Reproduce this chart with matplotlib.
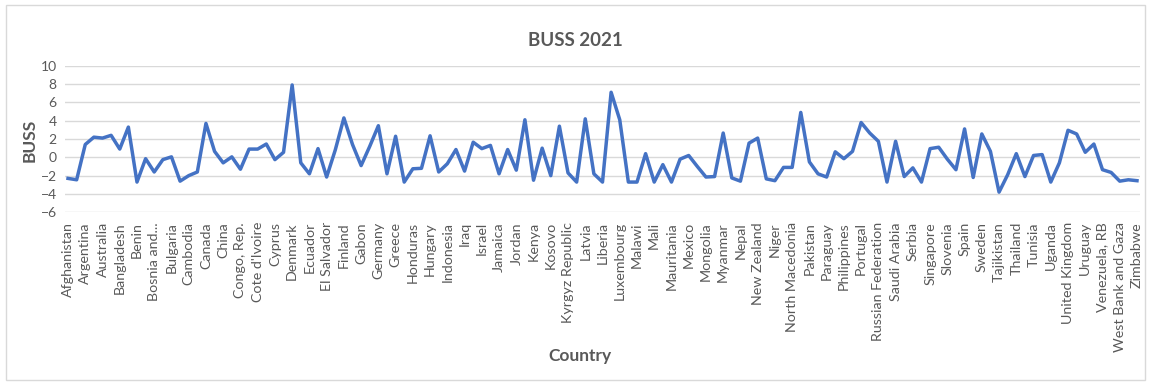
import numpy as np
import matplotlib
matplotlib.use("Agg")
from matplotlib import pyplot as plt
from matplotlib.patches import Rectangle

countries = [
    "Afghanistan", "Albania", "Argentina", "Armenia", "Australia", "Austria",
    "Bangladesh", "Belgium", "Benin", "Bolivia", "Bosnia and...", "Brazil",
    "Bulgaria", "Burkina Faso", "Cambodia", "Cameroon", "Canada", "Chile",
    "China", "Colombia", "Congo, Rep.", "Costa Rica", "Cote d'Ivoire", "Croatia",
    "Cyprus", "Czech Republic", "Denmark", "Dominican Republic", "Ecuador", "Egypt",
    "El Salvador", "Estonia", "Finland", "France", "Gabon", "Georgia",
    "Germany", "Ghana", "Greece", "Guatemala", "Honduras", "Hong Kong",
    "Hungary", "India", "Indonesia", "Iran", "Iraq", "Ireland",
    "Israel", "Italy", "Jamaica", "Japan", "Jordan", "Kazakhstan",
    "Kenya", "Korea, Rep.", "Kosovo", "Kuwait", "Kyrgyz Republic", "Lao PDR",
    "Latvia", "Lebanon", "Liberia", "Lithuania", "Luxembourg", "Madagascar",
    "Malawi", "Malaysia", "Mali", "Malta", "Mauritania", "Mauritius",
    "Mexico", "Moldova", "Mongolia", "Morocco", "Myanmar", "Namibia",
    "Nepal", "Netherlands", "New Zealand", "Nicaragua", "Niger", "Nigeria",
    "North Macedonia", "Norway", "Pakistan", "Panama", "Paraguay", "Peru",
    "Philippines", "Poland", "Portugal", "Romania", "Russian Federation", "Rwanda",
    "Saudi Arabia", "Senegal", "Serbia", "Sierra Leone", "Singapore", "Slovak Republic",
    "Slovenia", "South Africa", "Spain", "Sri Lanka", "Sweden", "Switzerland",
    "Tajikistan", "Tanzania", "Thailand", "Togo", "Tunisia", "Turkey",
    "Uganda", "Ukraine", "United Kingdom", "United States", "Uruguay", "Uzbekistan",
    "Venezuela, RB", "Vietnam", "West Bank and Gaza", "Zambia", "Zimbabwe",
]

buss = [
    -2.3, -2.45, 1.4, 2.2, 2.1, 2.4, 0.9, 3.3, -2.7, -0.15,
    -1.6, -0.25, 0.05, -2.6, -2.0, -1.6, 3.7, 0.65, -0.6, 0.05,
    -1.3, 0.9, 0.9, 1.45, -0.25, 0.55, 7.9, -0.6, -1.8, 0.95,
    -2.15, 0.8, 4.3, 1.4, -0.9, 1.2, 3.45, -1.8, 2.3, -2.7,
    -1.25, -1.2, 2.35, -1.6, -0.7, 0.85, -1.5, 1.65, 0.95, 1.3,
    -1.8, 0.85, -1.4, 4.1, -2.5, 1.0, -2.0, 3.4, -1.7, -2.7,
    4.2, -1.8, -2.7, 7.1, 4.1, -2.7, -2.7, 0.4, -2.7, -0.8,
    -2.7, -0.2, 0.2, -1.0, -2.15, -2.1, 2.65, -2.25, -2.6, 1.55,
    2.1, -2.35, -2.55, -1.1, -1.1, 4.9, -0.5, -1.8, -2.15, 0.6,
    -0.15, 0.65, 3.8, 2.65, 1.75, -2.7, 1.75, -2.1, -1.15, -2.7,
    0.95, 1.1, -0.2, -1.35, 3.1, -2.2, 2.55, 0.65, -3.8, -1.9,
    0.4, -2.1, 0.2, 0.3, -2.7, -0.6, 2.95, 2.55, 0.55, 1.45,
    -1.35, -1.65, -2.6, -2.45, -2.55,
]

grey = "#595959"
plt.rcParams["font.family"] = ["Lato", "DejaVu Sans"]

W, H = 1151, 384
fig = plt.figure(figsize=(W / 100, H / 100), dpi=100)
fig.patches.append(Rectangle((6 / W, 4 / H), 1139 / W, 375 / H, transform=fig.transFigure,
                             fill=False, edgecolor="#D9D9D9", linewidth=1))

ax = fig.add_axes([65 / W, (H - 212.3) / H, (1140 - 65) / W, (212.3 - 65.7) / H])
x = np.arange(len(buss))
ax.plot(x, buss, color="#4472C4", linewidth=2.5, solid_joinstyle="round")

ax.set_ylim(-6, 10)
ax.set_yticks(range(-6, 11, 2))
ax.set_xlim(-0.35, len(buss) - 0.65)
ax.set_xticks(x[::2])
ax.set_xticklabels(countries[::2], rotation=90, fontsize=10.3, color=grey)
ax.tick_params(axis="y", labelsize=10, labelcolor=grey, length=0, pad=6)
ax.tick_params(axis="x", length=0, pad=7)
ax.grid(axis="y", color="#D9D9D9", linewidth=1)
ax.set_axisbelow(True)
for s in ax.spines.values():
    s.set_visible(False)

fig.text(575 / W, 1 - 40 / H, "BUSS 2021", ha="center", va="center",
         fontsize=13.5, fontweight="bold", color=grey)
fig.text(30 / W, 1 - 140 / H, "BUSS", ha="center", va="center", rotation=90,
         fontsize=12.5, fontweight="bold", color=grey)
fig.text(580 / W, 1 - 356 / H, "Country", ha="center", va="center",
         fontsize=12.5, fontweight="bold", color=grey)

fig.savefig("out.png", dpi=100)
